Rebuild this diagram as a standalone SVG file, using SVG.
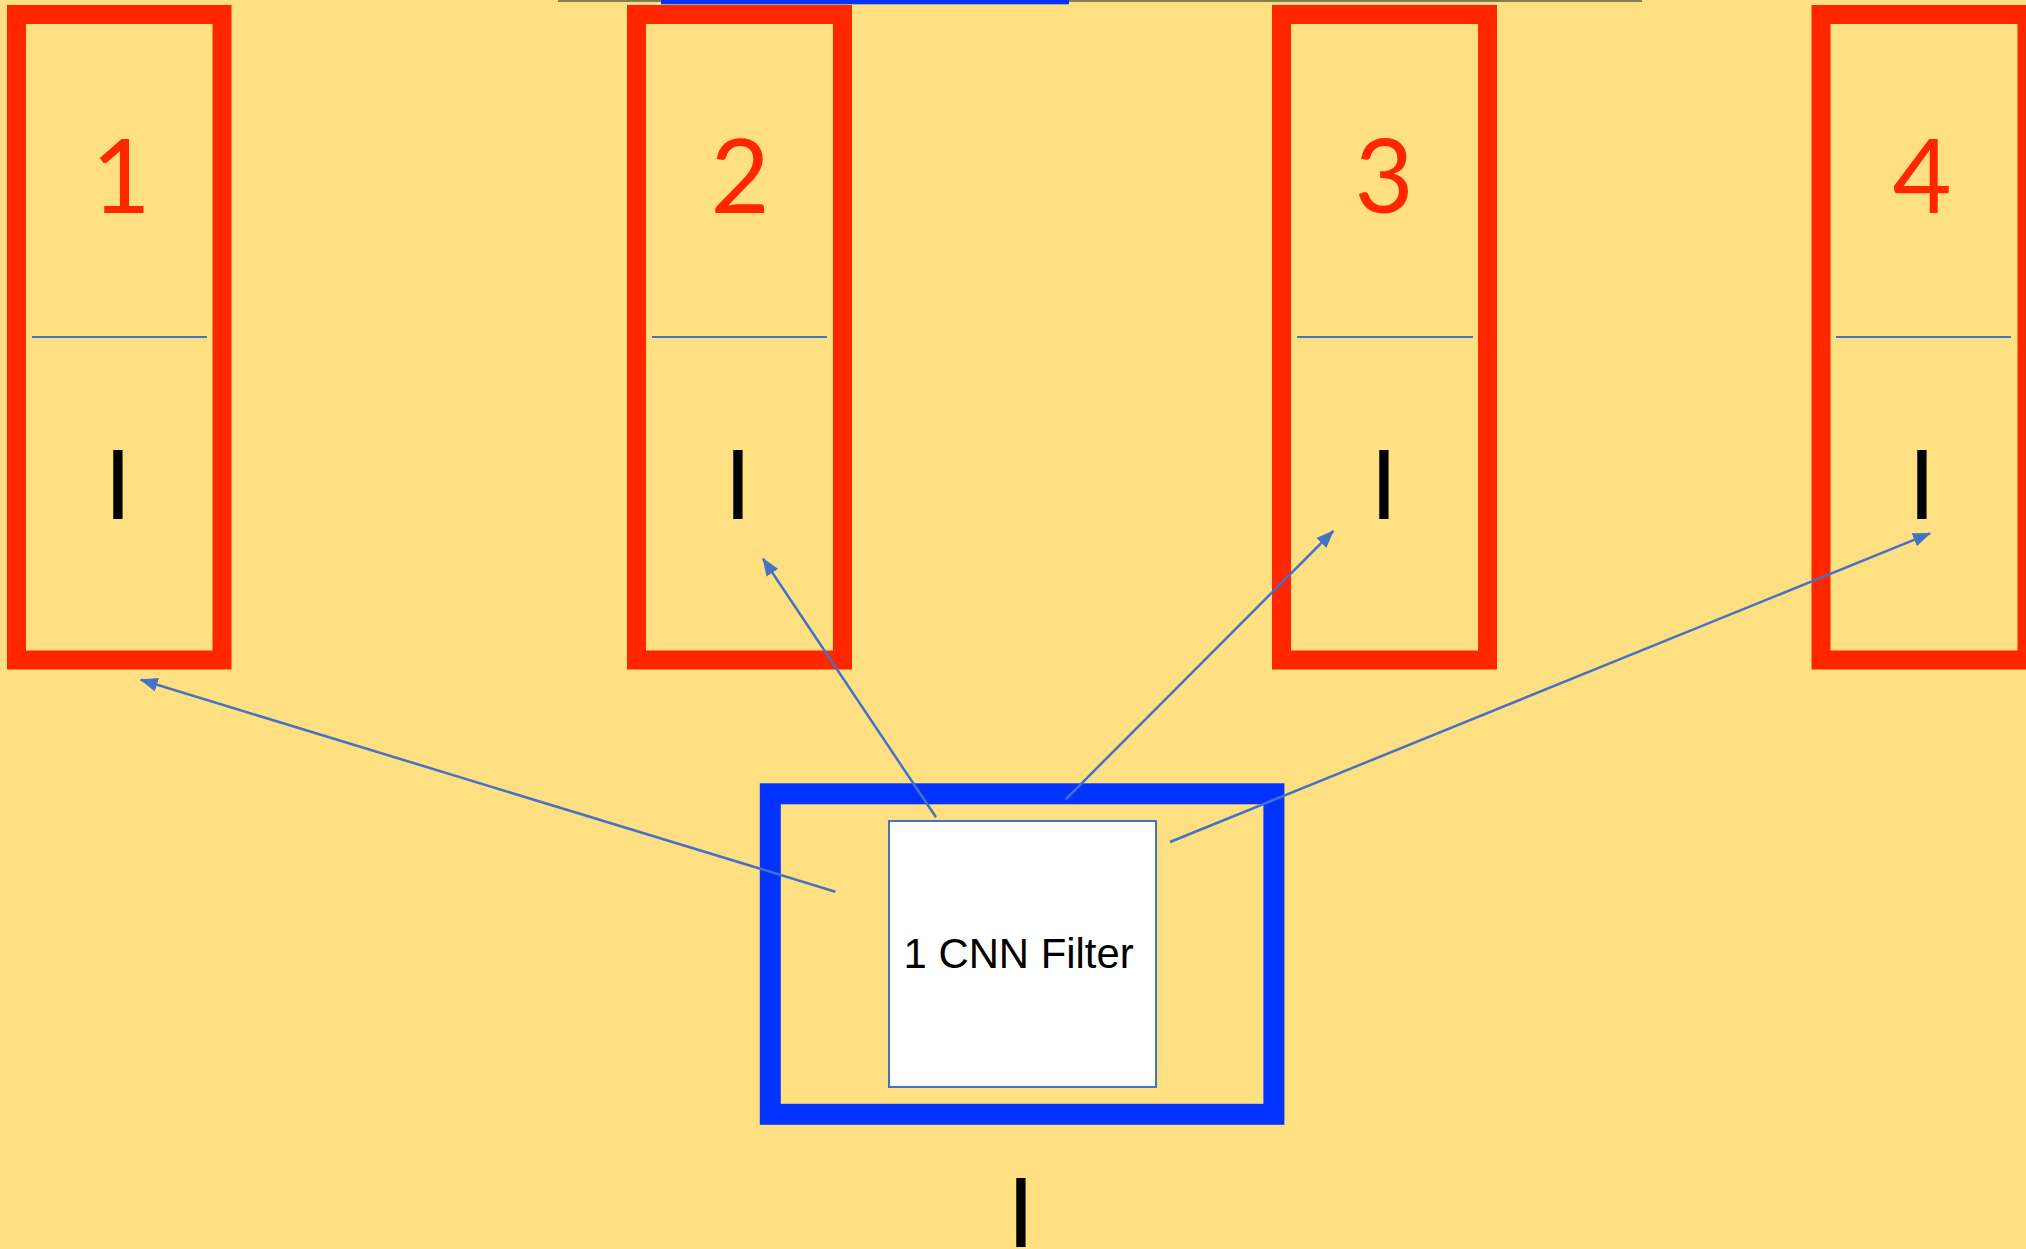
<svg xmlns="http://www.w3.org/2000/svg" width="2026" height="1249" viewBox="0 0 2026 1249">
<style>
.bg{fill:#FEDF81}
.red{fill:none;stroke:#FF2600;stroke-width:19}
.div{stroke:#4472C4;stroke-width:2}
.num{font-family:Lato,"DejaVu Sans",sans-serif;font-size:102px;fill:#FF2600;text-anchor:middle}
.eye{font-family:"Liberation Sans",sans-serif;font-size:100px;fill:#000;text-anchor:middle}
.conn{stroke:#4472C4;stroke-width:2.5;fill:none;marker-end:url(#ah)}
</style>
<defs>
<marker id="ah" markerUnits="userSpaceOnUse" markerWidth="18" markerHeight="14" refX="17" refY="7" orient="auto">
<path d="M0,0 L18,7 L0,14 Z" fill="#4472C4"/>
</marker>
</defs>
<rect class="bg" x="0" y="0" width="2026" height="1249"/>
<g id="topbar">
<line x1="558" y1="1" x2="1642" y2="1" stroke="#5E5A45" stroke-width="1.5"/>
<rect x="661" y="0" width="408" height="4" fill="#0433FF"/>
<line x1="661" y1="4.5" x2="1069" y2="4.5" stroke="#B0A890" stroke-width="1"/>
</g>
<g id="node1">
<rect class="red" x="16.5" y="14.5" width="205.5" height="645.5"/>
<line class="div" x1="32" y1="337" x2="207" y2="337"/>
<text class="num" x="121" y="213">1</text>
<text class="eye" x="118" y="519">I</text>
</g>
<g id="node2">
<rect class="red" x="636.5" y="14.5" width="206" height="645.5"/>
<line class="div" x1="652" y1="337" x2="827" y2="337"/>
<text class="num" x="740" y="213">2</text>
<text class="eye" x="738" y="519">I</text>
</g>
<g id="node3">
<rect class="red" x="1281.5" y="14.5" width="206" height="645.5"/>
<line class="div" x1="1297" y1="337" x2="1473" y2="337"/>
<text class="num" x="1384" y="213">3</text>
<text class="eye" x="1384" y="519">I</text>
</g>
<g id="node4">
<rect class="red" x="1821" y="14.5" width="206" height="645.5"/>
<line class="div" x1="1836" y1="337" x2="2011" y2="337"/>
<text class="num" x="1922" y="213">4</text>
<text class="eye" x="1922" y="519">I</text>
</g>
<g id="filter">
<rect x="770.3" y="793.8" width="503.6" height="320.5" fill="none" stroke="#0433FF" stroke-width="21"/>
<rect x="889" y="821" width="267" height="266" fill="#FFFFFF" stroke="#4472C4" stroke-width="2"/>
<text x="1018.6" y="968" font-family="Liberation Sans, sans-serif" font-size="43" fill="#000" text-anchor="middle" textLength="230" lengthAdjust="spacingAndGlyphs">1 CNN Filter</text>
</g>
<g id="bottomlabel">
<text class="eye" x="1021" y="1247">I</text>
</g>
<g id="connectors">
<line class="conn" x1="835.4" y1="891.7" x2="140.7" y2="679.8"/>
<line class="conn" x1="936" y1="817.3" x2="763" y2="558.7"/>
<line class="conn" x1="1065.7" y1="799.3" x2="1333.3" y2="531"/>
<line class="conn" x1="1170" y1="842" x2="1930" y2="533.3"/>
</g>
</svg>
